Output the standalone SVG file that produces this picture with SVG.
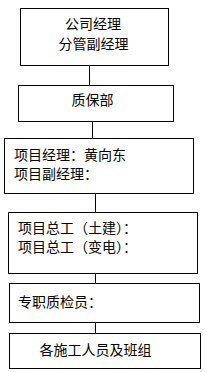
<svg xmlns="http://www.w3.org/2000/svg" width="207" height="372" viewBox="0 0 207 372">
<style>
.box{fill:#fff;stroke:#000;stroke-width:1}
.t{font-family:"Noto Sans CJK SC","Noto Sans CJK JP",sans-serif;font-size:14px;fill:#000}
.c{text-anchor:middle}
.ln{stroke:#000;stroke-width:1;fill:none}
</style>
<rect width="207" height="372" fill="#fff"/>
<g id="connectors">
<line class="ln" x1="89.5" y1="65" x2="89.5" y2="85"/>
<line class="ln" x1="92.5" y1="121" x2="92.5" y2="138"/>
<line class="ln" x1="95.5" y1="193" x2="95.5" y2="212"/>
<line class="ln" x1="95.5" y1="273" x2="95.5" y2="283"/>
<line class="ln" x1="95.5" y1="322" x2="95.5" y2="333"/>
</g>
<g id="n1">
<rect class="box" x="20.5" y="8.5" width="148" height="57"/>
<text class="t c" x="93" y="29">公司经理</text>
<text class="t c" x="93.5" y="49">分管副经理</text>
</g>
<g id="n2">
<rect class="box" x="18.5" y="85.5" width="155" height="36"/>
<text class="t c" x="92.5" y="105">质保部</text>
</g>
<g id="n3">
<rect class="box" x="4.5" y="138.5" width="189" height="55"/>
<text class="t" x="14" y="160">项目经理：黄向东</text>
<text class="t" x="14" y="179">项目副经理：</text>
</g>
<g id="n4">
<rect class="box" x="8.5" y="212.5" width="189" height="61"/>
<text class="t" x="18" y="233">项目总工（土建）：</text>
<text class="t" x="18" y="252">项目总工（变电）：</text>
</g>
<g id="n5">
<rect class="box" x="9.5" y="283.5" width="190" height="39"/>
<text class="t" x="18" y="307">专职质检员：</text>
</g>
<g id="n6">
<rect class="box" x="9.5" y="333.5" width="191" height="35"/>
<text class="t c" x="95.5" y="355">各施工人员及班组</text>
</g>
</svg>
